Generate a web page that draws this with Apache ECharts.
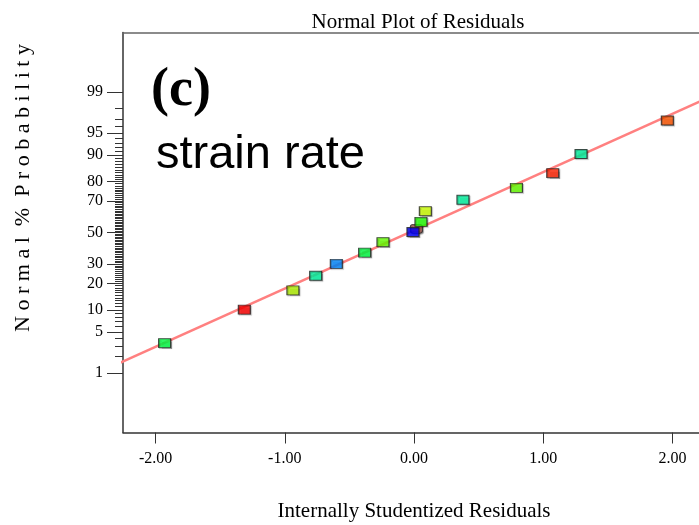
<!DOCTYPE html>
<html lang="en">
<head>
    <meta charset="UTF-8">
    <title>Normal Plot of Residuals</title>
    <script src="https://cdn.jsdelivr.net/npm/echarts@6/dist/echarts.min.js"></script>
    <style>
        html, body { margin: 0; padding: 0; background: #fff; }
        #chart { width: 699px; height: 525px; }
    </style>
</head>
<body>
    <div id="chart"></div>
    <script>
        // 数据
        const residuals = [-1.93, -1.313, -0.937, -0.761, -0.601, -0.382, -0.240, 0.019, -0.008, 0.054, 0.088, 0.379, 0.793, 1.074, 1.293, 1.961];
        const normalPct = [3.36, 10.1, 16.9, 23.7, 30.2, 37.0, 43.7, 52.4, 50.3, 57.0, 63.8, 70.6, 77.0, 83.7, 90.3, 96.8];
        const pointColors = ['#00ff44', '#ff0000', '#b0f000', '#00f5a0', '#0088ff', '#00ff44', '#66ff00', '#b05a50',
            '#0000ff', '#22ff00', '#ccff00', '#00f5a0', '#66ff00', '#ff2200', '#00f5a0', '#ff5500'];
        const fitResid = [-2.3, 2.3];
        const fitPct = [1.46, 98.78];
        const majorPct = [1, 5, 10, 20, 30, 50, 70, 80, 90, 95, 99];
        const xTicks = [-2, -1, 0, 1, 2];

        // 正态分位数（Acklam 近似）
        function probit(p) {
            const a = [-3.969683028665376e+01, 2.209460984245205e+02, -2.759285104469687e+02, 1.383577518672690e+02, -3.066479806614716e+01, 2.506628277459239e+00];
            const b = [-5.447609879822406e+01, 1.615858368580409e+02, -1.556989798598866e+02, 6.680131188771972e+01, -1.328068155288572e+01];
            const c = [-7.784894002430293e-03, -3.223964580411365e-01, -2.400758277161838e+00, -2.549732539343734e+00, 4.374664141464968e+00, 2.938163982698783e+00];
            const d = [7.784695709041462e-03, 3.224671290700398e-01, 2.445134137142996e+00, 3.754408661907416e+00];
            const pl = 0.02425;
            if (p < pl) {
                const q = Math.sqrt(-2 * Math.log(p));
                return (((((c[0] * q + c[1]) * q + c[2]) * q + c[3]) * q + c[4]) * q + c[5]) / ((((d[0] * q + d[1]) * q + d[2]) * q + d[3]) * q + 1);
            }
            if (p <= 1 - pl) {
                const q = p - 0.5, r = q * q;
                return (((((a[0] * r + a[1]) * r + a[2]) * r + a[3]) * r + a[4]) * r + a[5]) * q / (((((b[0] * r + b[1]) * r + b[2]) * r + b[3]) * r + b[4]) * r + 1);
            }
            const q = Math.sqrt(-2 * Math.log(1 - p));
            return -(((((c[0] * q + c[1]) * q + c[2]) * q + c[3]) * q + c[4]) * q + c[5]) / ((((d[0] * q + d[1]) * q + d[2]) * q + d[3]) * q + 1);
        }
        const z = pct => probit(pct / 100);

        const majorZ = majorPct.map(z);
        const minorZ = [];
        for (let i = 1; i <= 99; i++) {
            if (!majorPct.includes(i)) minorZ.push(z(i));
        }

        const serif = '"Liberation Serif", "DejaVu Serif", serif';
        const zMax = 3.3075;
        const xMin = -2.252, xMax = 2.206; // 右侧被裁掉，只显示到 2.2 左右

        const chart = echarts.init(document.getElementById('chart'));
        const option = {
            animation: false,
            title: {
                text: 'Normal Plot of Residuals',
                left: 413,
                top: 7,
                textAlign: 'center',
                textStyle: { fontFamily: serif, fontWeight: 'normal', fontSize: 21, color: '#000' }
            },
            grid: {
                left: 123, top: 32.5, right: 0, height: 400,
                show: false
            },
            xAxis: [{
                type: 'value',
                min: xMin, max: xMax,
                name: 'Internally Studentized Residuals',
                nameLocation: 'start',
                nameGap: 0,
                nameTextStyle: {
                    fontFamily: serif, fontSize: 21, color: '#000',
                    align: 'center', verticalAlign: 'top',
                    padding: [68, 0, 0, 582]
                },
                axisLine: { onZero: false, lineStyle: { color: '#333', width: 1.5 } },
                axisTick: { customValues: xTicks, length: 11, lineStyle: { color: '#333' } },
                axisLabel: {
                    customValues: xTicks, margin: 18,
                    fontFamily: serif, fontSize: 16, color: '#000',
                    formatter: v => v.toFixed(2)
                },
                splitLine: { show: false }
            }, {
                type: 'value',
                position: 'top',
                min: xMin, max: xMax,
                axisLine: { show: true, onZero: false, lineStyle: { color: '#666', width: 1.5 } },
                axisTick: { show: false },
                axisLabel: { show: false },
                splitLine: { show: false }
            }],
            yAxis: [{
                type: 'value',
                min: -zMax, max: zMax,
                axisLine: { show: true, onZero: false, lineStyle: { color: '#333', width: 1.5 } },
                axisTick: { customValues: majorZ, length: 16, lineStyle: { color: '#333' } },
                axisLabel: {
                    customValues: majorZ, margin: 20,
                    fontFamily: serif, fontSize: 16, color: '#000',
                    formatter: v => {
                        const i = majorZ.findIndex(m => Math.abs(m - v) < 1e-6);
                        return i >= 0 ? String(majorPct[i]) : '';
                    }
                },
                splitLine: { show: false }
            }, {
                type: 'value',
                position: 'left',
                min: -zMax, max: zMax,
                axisLine: { show: false, onZero: false },
                axisTick: { show: true, customValues: minorZ, length: 8, lineStyle: { color: '#333', width: 1 } },
                axisLabel: { show: false },
                splitLine: { show: false }
            }],
            graphic: [{
                type: 'text',
                x: 23, y: 188,
                rotation: Math.PI / 2,
                style: {
                    text: 'N o r m a l  %  P r o b a b i l i t y',
                    font: '22px ' + serif,
                    fill: '#000',
                    align: 'center',
                    verticalAlign: 'middle'
                }
            }, {
                type: 'text',
                left: 151, top: 64,
                style: { text: '(c)', font: 'bold 54px ' + serif, fill: '#000' }
            }, {
                type: 'text',
                left: 156, top: 132,
                style: { text: 'strain rate', font: '47px "Liberation Sans", Arial, sans-serif', fill: '#000' }
            }],
            series: [{
                type: 'line',
                data: fitResid.map((x, i) => [x, z(fitPct[i])]),
                symbol: 'none',
                lineStyle: { color: '#ff8080', width: 2.5 },
                clip: true,
                z: 2
            }, {
                type: 'scatter',
                data: residuals.map((x, i) => ({
                    value: [x, z(normalPct[i])],
                    itemStyle: { color: pointColors[i] },
                    symbol: i === 7 ? 'roundRect' : 'rect'
                })),
                symbolSize: [12, 9],
                itemStyle: {
                    borderColor: '#222', borderWidth: 1,
                    shadowColor: 'rgba(0,0,0,0.35)', shadowBlur: 1, shadowOffsetX: 1, shadowOffsetY: 1
                },
                z: 3
            }]
        };
        chart.setOption(option);
    </script>
</body>
</html>
